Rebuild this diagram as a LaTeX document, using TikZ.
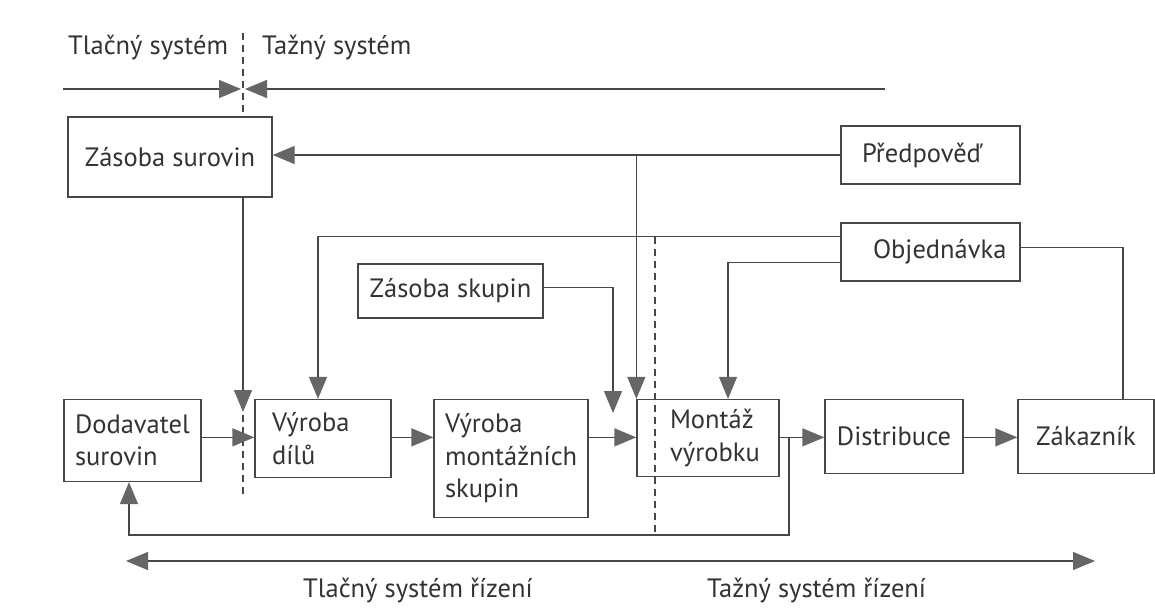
\documentclass[tikz,border=0pt]{standalone}
\usepackage{fontspec}
\setmainfont{PT Sans}
\usetikzlibrary{arrows.meta}
\definecolor{lc}{HTML}{474747}
\definecolor{ac}{HTML}{666666}
\definecolor{tc}{HTML}{333333}
\newcommand\boxfont{\fontsize{26.5}{32.5}\selectfont\hfuzz=200pt}
\tikzset{
  tip/.style={Triangle[length=22pt,width=18pt,color=ac]},
  ln/.style={draw=lc, line width=1.3pt},
  arr/.style={ln, -{Triangle[length=22pt,width=18pt,color=ac]}},
  darr/.style={ln, {Triangle[length=22pt,width=18pt,color=ac]}-{Triangle[length=22pt,width=18pt,color=ac]}},
  dsh/.style={draw=lc, line width=1.2pt, dash pattern=on 7pt off 5pt},
  box/.style={draw=lc, line width=1.3pt, rectangle, inner ysep=0pt, font=\boxfont, text=tc},
  lbox/.style n args={3}{box, align=left, minimum width=#1, text width=#2, inner xsep=#3},
  lbl/.style={font=\boxfont, text=tc, inner sep=0pt, anchor=base west},
}
\begin{document}
\begin{tikzpicture}[x=1pt, y=-1pt]
\useasboundingbox (0,0) rectangle (1155,615);
\fill[white] (0,0) rectangle (1155,615);

% headings above the split line
\node[lbl] (hpush) at (68,55) {Tlačný systém};
\node[lbl] (hpull) at (262,55) {Tažný systém};

% boxes
\node[box, minimum width=204pt, minimum height=80pt] (zs) at (170,157) {Zásoba surovin};
\node[lbox={179pt}{137pt}{21pt}, minimum height=58pt] (pred) at (930.5,155) {Předpověď};
\node[lbox={179pt}{115pt}{32pt}, minimum height=58pt] (obj) at (930.5,252) {Objednávka};
\node[box, minimum width=185pt, minimum height=54pt] (zsk) at (450.5,291) {Zásoba skupin};

\node[lbox={137pt}{115pt}{11pt}, minimum height=82pt] (dod) at (132.5,440.5) {Dodavatel\\surovin};
\node[lbox={136pt}{102pt}{17pt}, minimum height=78pt] (vd) at (323,438.5) {Výroba\\dílů};
\node[lbox={154pt}{132pt}{11pt}, minimum height=118pt] (vms) at (511,458.5) {Výroba\\montážních\\skupin};
\node[lbox={142pt}{76pt}{33pt}, minimum height=77pt] (mont) at (708,438) {Montáž\\výrobku};
\node[box, minimum width=138pt, minimum height=74pt] (dist) at (894,436.5) {Distribuce};
\node[box, minimum width=136pt, minimum height=74pt] (zak) at (1086,436.5) {Zákazník};

% labels under the long arrow
\node[lbl] (fpush) at (303,597) {Tlačný systém řízení};
\node[lbl] (fpull) at (707,597) {Tažný systém řízení};

% helper points
\coordinate (sep) at (243,89);
\coordinate (topL) at (63,89);
\coordinate (topR) at (885,89);
\coordinate (dashA) at (243,33);
\coordinate (dashB1) at (243,415);
\coordinate (dashB2) at (243,498);
\coordinate (dashC1) at (655,237);
\coordinate (dashC2) at (655,532);
\coordinate (zsTip) at (243,412);
\coordinate (skTip) at (613,413);
\coordinate (fb) at (789,438);
\coordinate (fbL) at (129,535);
\coordinate (botL) at (126,561);
\coordinate (botR) at (1095,561);

% split line with the two meeting arrows
\draw[arr] (topL) -- ([xshift=-2pt]sep);
\draw[arr] (topR) -- ([xshift=2pt]sep);

% dividing dashed lines
\draw[dsh] (dashA) -- (dashA |- zs.north);
\draw[dsh] (dashB1) -- (dashB2);
\draw[dsh] (dashC1) -- (dashC2);

% information flows
\draw[arr] (zs.south -| zsTip) -- (zsTip);
\draw[arr] (pred.west) -- (pred.west -| zs.east);
\draw[arr] (pred.west -| mont.north west) -- (mont.north west);
\draw[arr] ([yshift=-14pt]obj.north west) -| ([xshift=-5pt]vd.north);
\draw[arr] ([yshift=-40pt]obj.north west) -| ([xshift=20pt]mont.north);
\draw[ln] ([yshift=-25pt]obj.north east) -| ([xshift=37pt]zak.north);
\draw[arr] ([yshift=-24pt]zsk.north east) -| (skTip);

% material flow
\draw[arr] ([yshift=-38.5pt]dod.north east) -- ([yshift=-38.5pt]vd.north west);
\draw[arr] ([yshift=-38.5pt]vd.north east) -- ([yshift=-38.5pt]vms.north west);
\draw[arr] ([yshift=-38.5pt]vms.north east) -- ([yshift=-38.5pt]mont.north west);
\draw[arr] ([yshift=-38.5pt]mont.north east) -- ([yshift=-38.5pt]dist.north west);
\draw[arr] ([yshift=-38.5pt]dist.north east) -- ([yshift=-38.5pt]zak.north west);

% feedback to the supplier
\draw[arr] (fb) |- (fbL) -- (fbL |- dod.south);

% push / pull range arrow
\draw[darr] (botL) -- (botR);
\end{tikzpicture}
\end{document}
